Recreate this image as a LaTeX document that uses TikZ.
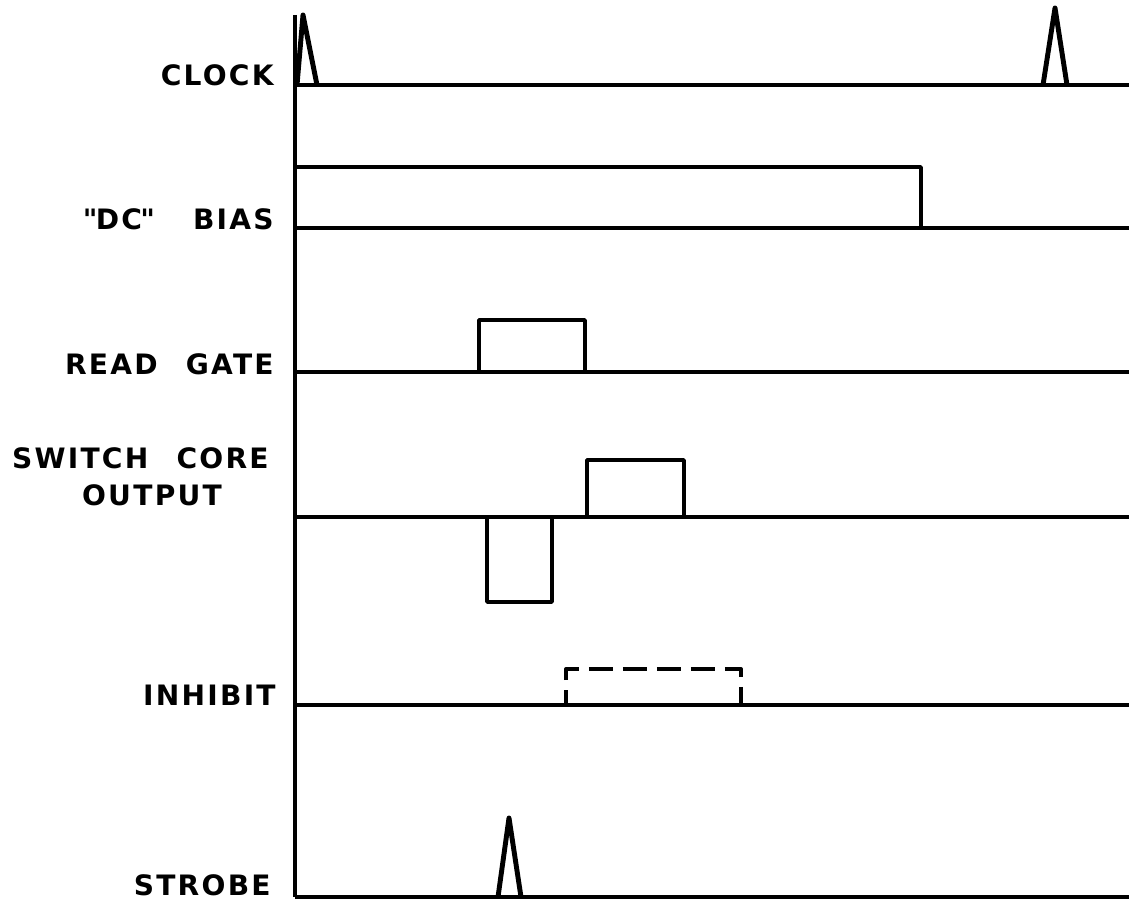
\documentclass[tikz,border=0pt]{standalone}
\usepackage{fontspec}
\newfontfamily\leroy{DejaVu Sans}[LetterSpace=8]
\usepackage{tikz}
\usetikzlibrary{positioning}

\begin{document}
\begin{tikzpicture}[
    x=0.02cm, y=-0.02cm,
    axis/.style={line width=2pt},
    wave/.style={line width=2pt, line join=round},
    spike/.style={line width=2.8pt, line join=round},
    dashwave/.style={wave, line width=2.3pt, dash pattern=on 0.48cm off 0.2cm, dash phase=0.18cm},
    siglabel/.style={anchor=base east, inner sep=0pt, font=\leroy\bfseries\fontsize{16}{19}\selectfont}
]
\useasboundingbox (0,0) rectangle (1131,901);

% Axis
\draw[axis] (295,15) -- (295,897);

% Baselines
\foreach \y in {85,228,372,517,705,897}
    \draw[wave] (295,\y) -- (1129,\y);

% Clock
\draw[spike] (297,85) -- (303,15) -- (317,85);
\draw[spike] (1043,85) -- (1055,8) -- (1067,85);

% DC bias
\draw[wave] (295,167) -- (921,167) -- (921,228);

% Read gate
\draw[wave] (479,372) -- (479,320) -- (585,320) -- (585,372);

% Switch core output
\draw[wave] (487,517) -- (487,602) -- (552,602) -- (552,517);
\draw[wave] (587,517) -- (587,460) -- (684,460) -- (684,517);

% Inhibit
\draw[dashwave] (566,705) -- (566,669) -- (741,669) -- (741,705);

% Strobe
\draw[spike] (498,897) -- (509,818) -- (521,897);

% Labels
\node[siglabel] (clock) at (274,86) {CLOCK};
\node[siglabel] (bias) at (274,230) {"\kern-0.06em DC\kern-0.06em"\hspace{1.35em}BIAS};
\node[siglabel] (read) at (274,375) {READ\hspace{1em}GATE};
\node[siglabel] (switch) at (269,468) {SWITCH\hspace{1em}CORE};
\node[siglabel, anchor=base] (output) at (152,505) {OUTPUT};
\node[siglabel] (inhibit) at (276,705) {INHIBIT};
\node[siglabel] (strobe) at (271,895) {STROBE};

\end{tikzpicture}
\end{document}
